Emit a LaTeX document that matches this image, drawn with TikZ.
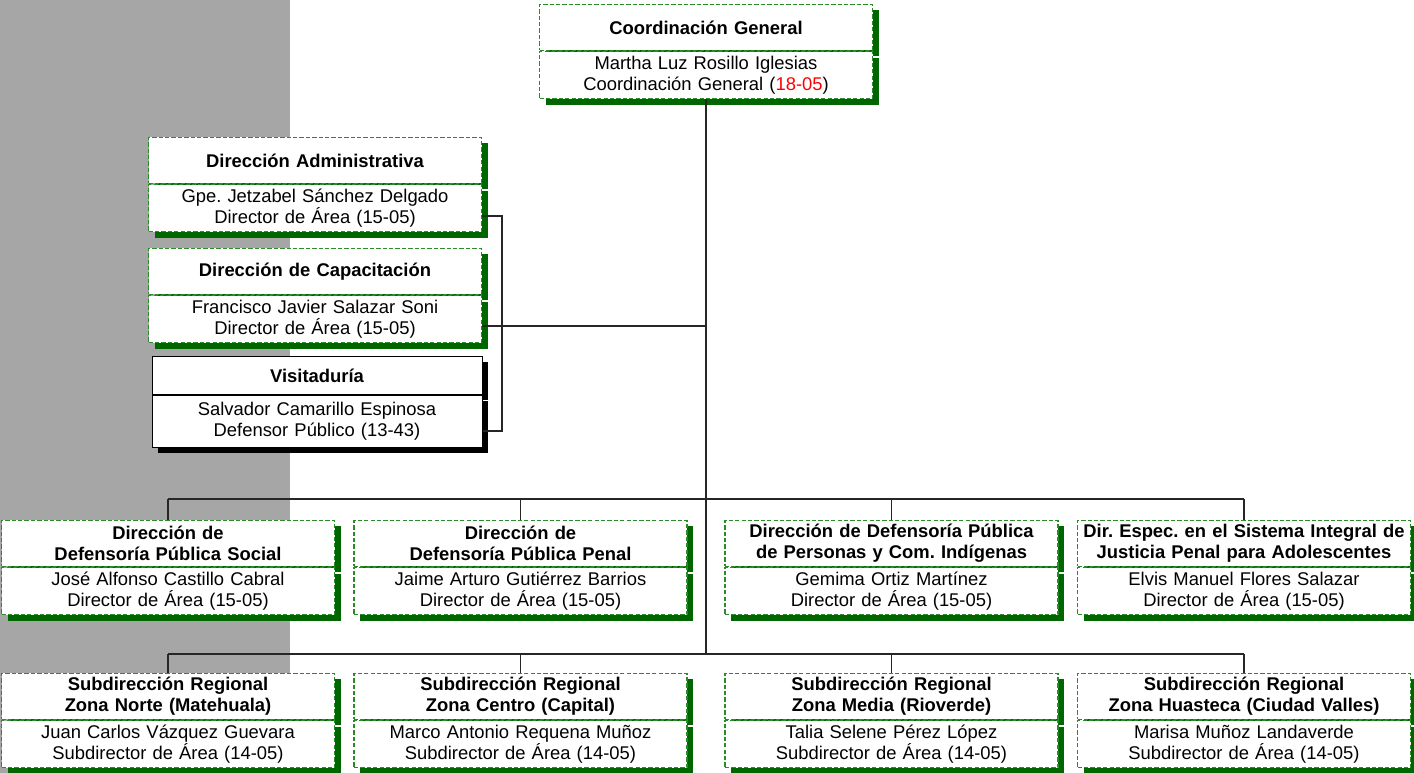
\documentclass[tikz,border=0pt]{standalone}
\usepackage{fontspec}
\setmainfont{Liberation Sans}
\usetikzlibrary{positioning,shadows}
\definecolor{boxgreen}{RGB}{40,140,40}
\definecolor{shadegreen}{RGB}{0,102,0}
\definecolor{margingray}{RGB}{166,166,166}
\begin{document}
\frenchspacing
\begin{tikzpicture}[x=.75pt, y=-.75pt,
	unit/.style={draw=boxgreen, line width=.8pt, dash pattern=on 3.2pt off 1.6pt, fill=white,
		drop shadow={shadow xshift=4.5pt, shadow yshift=-4.5pt, fill=shadegreen, opacity=1},
		inner xsep=.75pt, inner ysep=0pt, text width=248.25pt, align=center},
	head/.style={unit, minimum height=34.5pt, font=\fontsize{13.8pt}{15.75pt}\selectfont\bfseries},
	body/.style={unit, minimum height=35.5pt, font=\fontsize{13.8pt}{15.75pt}\selectfont},
	plain/.style={draw=black, solid, line width=.75pt,
		drop shadow={shadow xshift=4.5pt, shadow yshift=-4.5pt, fill=black, opacity=1}},
	link/.style={draw=black!85, line width=.8pt}]
	\useasboundingbox (0,0) rectangle (1414,773);
	\fill[margingray] (0,0) rectangle (290,773);
	% Coordinacion General
	\node[head, anchor=south] (cg) at (706,51) {Coordinación General};
	\node[body, below=0pt of cg] (cgb) {Martha Luz Rosillo Iglesias\\Coordinación General (\textcolor{red}{18-05})};
	% staff units
	\node[head, anchor=south] (adm) at (315,184) {Dirección Administrativa};
	\node[body, below=0pt of adm] (admb) {Gpe. Jetzabel Sánchez Delgado\\Director de Área (15-05)};
	\node[head, anchor=south] (cap) at (315,295) {Dirección de Capacitación};
	\node[body, below=0pt of cap] (capb) {Francisco Javier Salazar Soni\\Director de Área (15-05)};
	\node[head, plain, anchor=south, minimum height=28.5pt, text width=246pt] (vis) at (317,395) {Visitaduría};
	\node[body, plain, below=0pt of vis, minimum height=39pt, text width=246pt] (visb) {Salvador Camarillo Espinosa\\Defensor Público (13-43)};
	% direcciones
	\node[head, anchor=south] (d1) at (168,567) {Dirección de\\Defensoría Pública Social};
	\node[body, below=0pt of d1] (d1b) {José Alfonso Castillo Cabral\\Director de Área (15-05)};
	\node[head, anchor=south] (d2) at (520.5,567) {Dirección de\\Defensoría Pública Penal};
	\node[body, below=0pt of d2] (d2b) {Jaime Arturo Gutiérrez Barrios\\Director de Área (15-05)};
	\node[head, anchor=south] (d3) at (891.5,567) {Dirección de Defensoría Pública\\de Personas y Com. Indígenas};
	\node[body, below=0pt of d3] (d3b) {Gemima Ortiz Martínez\\Director de Área (15-05)};
	\node[head, anchor=south] (d4) at (1244,567) {Dir. Espec. en el Sistema Integral de\\Justicia Penal para Adolescentes};
	\node[body, below=0pt of d4] (d4b) {Elvis Manuel Flores Salazar\\Director de Área (15-05)};
	% subdirecciones regionales
	\node[head, anchor=south] (s1) at (168,720) {Subdirección Regional\\Zona Norte (Matehuala)};
	\node[body, below=0pt of s1] (s1b) {Juan Carlos Vázquez Guevara\\Subdirector de Área (14-05)};
	\node[head, anchor=south] (s2) at (520.5,720) {Subdirección Regional\\Zona Centro (Capital)};
	\node[body, below=0pt of s2] (s2b) {Marco Antonio Requena Muñoz\\Subdirector de Área (14-05)};
	\node[head, anchor=south] (s3) at (891.5,720) {Subdirección Regional\\Zona Media (Rioverde)};
	\node[body, below=0pt of s3] (s3b) {Talia Selene Pérez López\\Subdirector de Área (14-05)};
	\node[head, anchor=south] (s4) at (1244,720) {Subdirección Regional\\Zona Huasteca (Ciudad Valles)};
	\node[body, below=0pt of s4] (s4b) {Marisa Muñoz Landaverde\\Subdirector de Área (14-05)};
	% junctions on the main line
	\coordinate (j1) at (706,326);
	\coordinate (j2) at (706,499);
	\coordinate (j3) at (706,654);
	\coordinate (bt) at (502,216);
	\coordinate (bb) at (502,431);
	\draw[link] (cgb) -- (j3);
	\draw[link] (capb.east |- j1) -- (j1);
	\draw[link] (admb.east |- bt) -- (bt) -- (bb) -- (visb.east |- bb);
	\draw[link] (d1.north |- j2) -- (d4.north |- j2);
	\draw[link] (s1.north |- j3) -- (s4.north |- j3);
	\foreach \n in {d1,d2,d3,d4}
		\draw[link] (\n.north |- j2) -- (\n);
	\foreach \n in {s1,s2,s3,s4}
		\draw[link] (\n.north |- j3) -- (\n);
\end{tikzpicture}
\end{document}
